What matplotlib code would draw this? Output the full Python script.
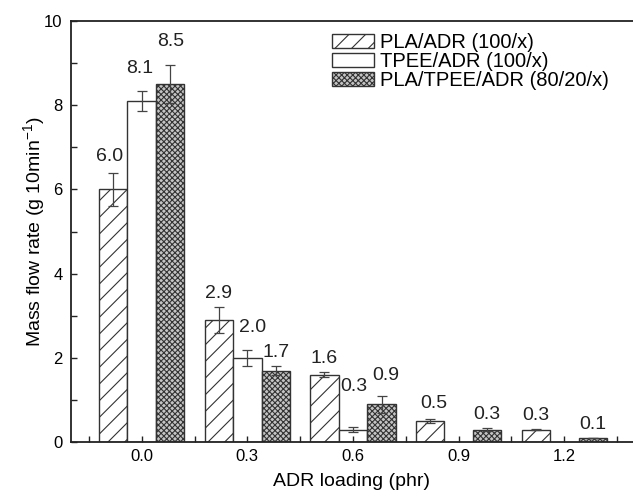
import matplotlib

matplotlib.use("Agg")
import matplotlib.pyplot as plt
import numpy as np

plt.rcParams["font.family"] = ["Liberation Sans", "DejaVu Sans"]
plt.rcParams["mathtext.fontset"] = "custom"
plt.rcParams["mathtext.rm"] = "Liberation Sans"
plt.rcParams["hatch.linewidth"] = 0.8

loadings = ["0.0", "0.3", "0.6", "0.9", "1.2"]
series_names = ["PLA/ADR (100/x)", "TPEE/ADR (100/x)", "PLA/TPEE/ADR (80/20/x)"]
pla = [6.0, 2.9, 1.6, 0.5, 0.3]
tpee = [8.1, 2.0, 0.3, 0.0, 0.0]
blend = [8.5, 1.7, 0.9, 0.3, 0.1]
pla_err = [0.4, 0.3, 0.06, 0.05, 0.02]
tpee_err = [0.23, 0.2, 0.05, 0.0, 0.0]
blend_err = [0.45, 0.1, 0.2, 0.03, 0.01]

EDGE = "#333333"
STYLES = [
    dict(facecolor="white", hatch="//"),
    dict(facecolor="white", hatch=None),
    dict(facecolor="#c4c4c4", hatch="xxxxxx"),
]
# label nudges (pixels), keyed (series, group), where labels were moved by hand
NUDGE = {(0, 0): (-4, 3), (1, 0): (-2, 9), (2, 0): (0, 10), (1, 1): (5, 9),
         (1, 2): (1, 27), (2, 2): (4, 7), (0, 3): (4, 2)}

fig = plt.figure(figsize=(6.33, 4.98), dpi=100)
ax = fig.add_axes([0.112, 0.112, 0.888, 0.846])

x = np.arange(len(loadings))
width = 0.27
data = [(pla, pla_err), (tpee, tpee_err), (blend, blend_err)]
handles = []
for k, ((vals, errs), style) in enumerate(zip(data, STYLES)):
    pos = x + (k - 1) * width
    shown = [i for i, v in enumerate(vals) if v > 0]
    bars = ax.bar(pos[shown], np.array(vals)[shown], width, edgecolor=EDGE,
                  linewidth=1.0, label=series_names[k], **style)
    handles.append(bars)
    ax.errorbar(pos[shown], np.array(vals)[shown], yerr=np.array(errs)[shown],
                fmt="none", ecolor="#444444", elinewidth=0.9, capsize=3.5,
                capthick=0.9)
    for i in shown:
        dx, dy = NUDGE.get((k, i), (0, 0))
        ax.annotate(f"{vals[i]:.1f}", xy=(pos[i], vals[i] + errs[i]),
                    xytext=(dx, 5 + dy), textcoords="offset pixels",
                    ha="center", va="bottom", fontsize=14, color="#222222")

ax.set_xlim(-0.67, 4.65)
ax.set_ylim(0, 10)
ax.set_xticks(x)
ax.set_xticklabels(loadings)
ax.set_xticks(np.arange(-0.5, 4.6, 1.0), minor=True)
ax.set_yticks(np.arange(0, 11, 2))
ax.set_yticks(np.arange(1, 10, 2), minor=True)
ax.tick_params(which="both", direction="in", length=4.5, width=1.0,
               labelsize=12, color="#222222")
ax.tick_params(axis="x", pad=5)
ax.tick_params(axis="y", pad=6)
for side in ["left", "bottom", "top"]:
    ax.spines[side].set_linewidth(1.3)
    ax.spines[side].set_color("#222222")
ax.spines["right"].set_visible(False)

ax.set_xlabel("ADR loading (phr)", fontsize=14, labelpad=6)
ax.set_ylabel("Mass flow rate (g 10min$^{\\mathregular{-1}}$)", fontsize=14)
ax.yaxis.set_label_coords(-0.04, 0.5)

fig.legend(handles=handles, loc="upper left", bbox_to_anchor=(332 / 633, 1 - 33 / 498),
           frameon=False, fontsize=14.5, handlelength=2.1, handleheight=0.7,
           labelspacing=0.0, handletextpad=0.3, borderpad=0, borderaxespad=0)

fig.savefig("out.png", dpi=100)
